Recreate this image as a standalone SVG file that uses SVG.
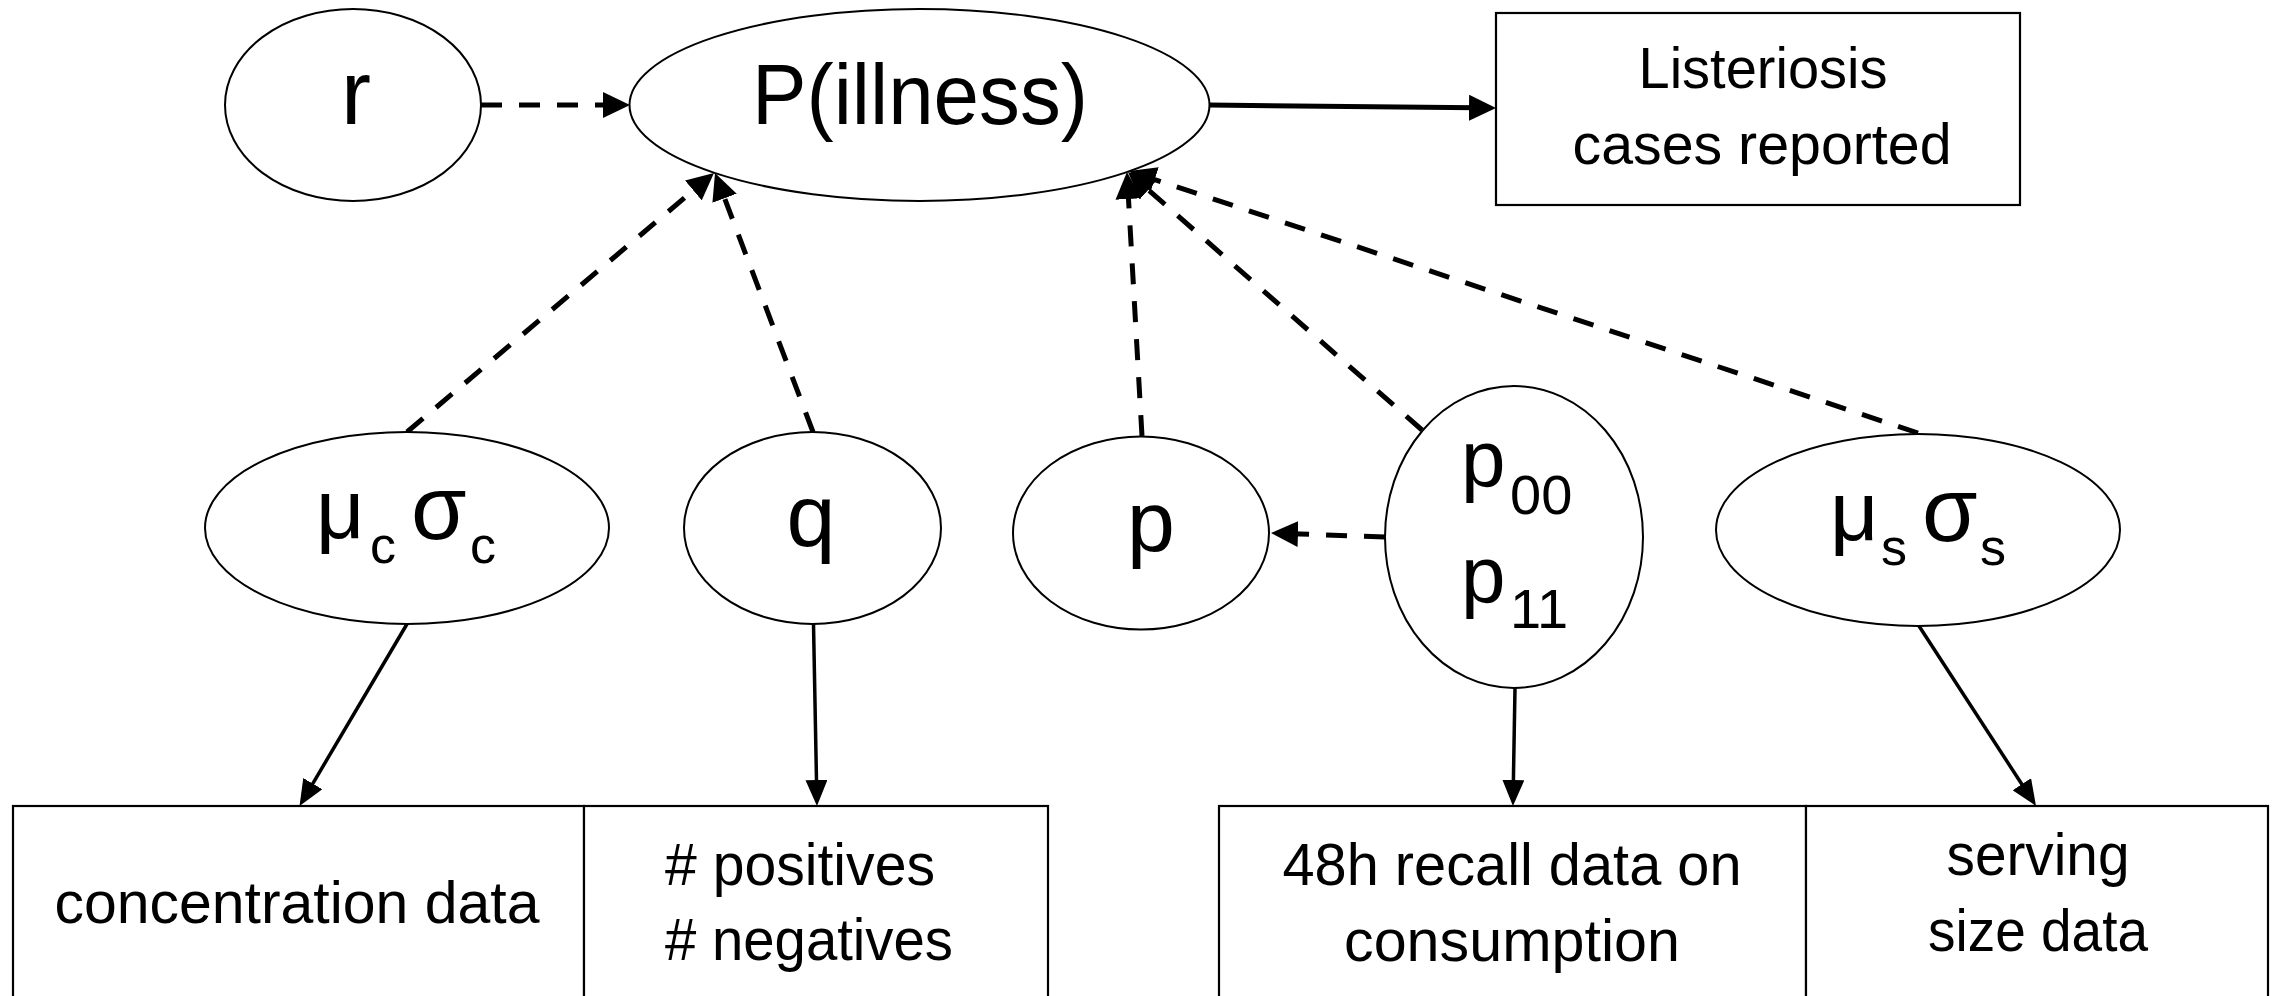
<svg xmlns="http://www.w3.org/2000/svg" width="2277" height="996" viewBox="0 0 2277 996">
  <style>
    .shape { fill: #ffffff; stroke: #000000; stroke-width: 2; }
    .box { fill: #ffffff; stroke: #000000; stroke-width: 2.2; }
    .lbl { font-family: "Liberation Sans", Arial, sans-serif; fill: #000000; }
    .dash { fill: none; stroke: #000000; stroke-width: 5; stroke-dasharray: 21 17; }
    .solid { fill: none; stroke: #000000; stroke-width: 3.5; }
    .solid-thick { fill: none; stroke: #000000; stroke-width: 5; }
  </style>
  <defs>
    <!-- arrowheads: tip sits 20 units past the line end -->
    <marker id="head" markerUnits="userSpaceOnUse" viewBox="0 0 27 26" markerWidth="27" markerHeight="26" refX="7" refY="13" orient="auto">
      <path d="M0,0 L27,13 L0,26 Z" fill="#000000"/>
    </marker>
    <marker id="head-small" markerUnits="userSpaceOnUse" viewBox="0 0 26 22" markerWidth="26" markerHeight="22" refX="6" refY="11" orient="auto">
      <path d="M0,0 L26,11 L0,22 Z" fill="#000000"/>
    </marker>
  </defs>

  <rect width="2277" height="996" fill="#ffffff"/>

  <!-- connectors -->
  <g id="connectors">
    <path class="dash" d="M481,105 L610,105" marker-end="url(#head)"/>
    <path class="solid-thick" d="M1209,105 L1476,107.8" marker-end="url(#head)"/>
    <path class="dash" d="M407,432 L698.7,185.9" marker-end="url(#head)"/>
    <path class="dash" d="M813,432 L722.1,191.7" marker-end="url(#head)"/>
    <path class="dash" d="M1142,436 L1128.1,192" marker-end="url(#head)"/>
    <path class="dash" d="M1422,430 L1143,185.2" marker-end="url(#head)"/>
    <path class="dash" d="M1918,433 L1148,177.3" marker-end="url(#head)"/>
    <path class="dash" d="M1385,537 L1291,533.7" marker-end="url(#head)"/>
    <path class="solid" d="M407,624 L309.7,788.8" marker-end="url(#head-small)"/>
    <path class="solid" d="M813.5,624 L816.6,786" marker-end="url(#head-small)"/>
    <path class="solid" d="M1515,688 L1513.3,786" marker-end="url(#head-small)"/>
    <path class="solid" d="M1919,626 L2025.1,789.2" marker-end="url(#head-small)"/>
  </g>

  <!-- parameter nodes -->
  <g id="node-r">
    <ellipse class="shape" cx="353" cy="105" rx="128" ry="96"/>
    <text class="lbl" x="356" y="124" font-size="90" text-anchor="middle">r</text>
  </g>

  <g id="node-pillness">
    <ellipse class="shape" cx="919.5" cy="105" rx="290" ry="96"/>
    <text class="lbl" x="752" y="124" font-size="86" textLength="336" lengthAdjust="spacingAndGlyphs">P(illness)</text>
  </g>

  <g id="node-cases">
    <rect class="box" x="1496" y="13" width="524" height="192"/>
    <text class="lbl" x="1763" y="88" font-size="57" text-anchor="middle" textLength="249" lengthAdjust="spacingAndGlyphs">Listeriosis</text>
    <text class="lbl" x="1762" y="164" font-size="57" text-anchor="middle" textLength="379" lengthAdjust="spacingAndGlyphs">cases reported</text>
  </g>

  <g id="node-muc-sigmac">
    <ellipse class="shape" cx="407" cy="528" rx="202" ry="96"/>
    <text class="lbl" font-size="84"><tspan x="316" y="538">μ</tspan><tspan x="370" y="563" font-size="52">c</tspan><tspan x="411" y="539" font-size="90">σ</tspan><tspan x="470" y="563" font-size="52">c</tspan></text>
  </g>

  <g id="node-q">
    <ellipse class="shape" cx="812.5" cy="528" rx="128.5" ry="96"/>
    <text class="lbl" x="811" y="546" font-size="88" text-anchor="middle">q</text>
  </g>

  <g id="node-p">
    <ellipse class="shape" cx="1141" cy="533" rx="128" ry="96.5"/>
    <text class="lbl" x="1151" y="551" font-size="86" text-anchor="middle">p</text>
  </g>

  <g id="node-p00-p11">
    <ellipse class="shape" cx="1514" cy="537" rx="129" ry="151"/>
    <text class="lbl" font-size="80"><tspan x="1461" y="486">p</tspan><tspan x="1510" y="514" font-size="56">00</tspan></text>
    <text class="lbl" font-size="80"><tspan x="1461" y="602">p</tspan><tspan x="1510" y="628" font-size="56">11</tspan></text>
  </g>

  <g id="node-mus-sigmas">
    <ellipse class="shape" cx="1918" cy="530" rx="202" ry="96"/>
    <text class="lbl" font-size="84"><tspan x="1830" y="540">μ</tspan><tspan x="1881" y="565" font-size="52">s</tspan><tspan x="1922" y="541" font-size="90">σ</tspan><tspan x="1980" y="565" font-size="52">s</tspan></text>
  </g>

  <!-- data boxes (open at the bottom edge) -->
  <g id="node-concentration">
    <rect class="box" x="13" y="806" width="571" height="260"/>
    <text class="lbl" x="297" y="923" font-size="60" text-anchor="middle" textLength="485" lengthAdjust="spacingAndGlyphs">concentration data</text>
  </g>

  <g id="node-positives">
    <rect class="box" x="584" y="806" width="464" height="260"/>
    <text class="lbl" x="665" y="885" font-size="60" textLength="270" lengthAdjust="spacingAndGlyphs"># positives</text>
    <text class="lbl" x="665" y="960" font-size="60" textLength="288" lengthAdjust="spacingAndGlyphs"># negatives</text>
  </g>

  <g id="node-recall">
    <rect class="box" x="1219" y="806" width="587" height="260"/>
    <text class="lbl" x="1512" y="885" font-size="60" text-anchor="middle" textLength="459" lengthAdjust="spacingAndGlyphs">48h recall data on</text>
    <text class="lbl" x="1512" y="961" font-size="60" text-anchor="middle" textLength="336" lengthAdjust="spacingAndGlyphs">consumption</text>
  </g>

  <g id="node-serving">
    <rect class="box" x="1806" y="806" width="462" height="260"/>
    <text class="lbl" x="2038" y="875" font-size="60" text-anchor="middle" textLength="183" lengthAdjust="spacingAndGlyphs">serving</text>
    <text class="lbl" x="2038" y="951" font-size="60" text-anchor="middle" textLength="220" lengthAdjust="spacingAndGlyphs">size data</text>
  </g>
</svg>
